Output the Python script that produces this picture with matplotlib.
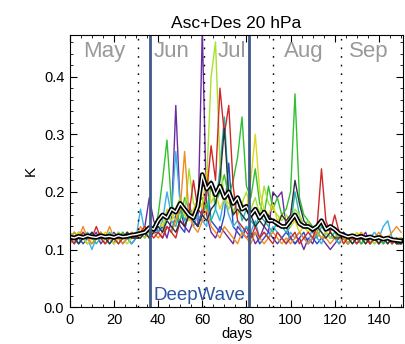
import numpy as np
import matplotlib
matplotlib.use("Agg")
import matplotlib.pyplot as plt
from matplotlib.ticker import MultipleLocator

plt.rcParams['font.family'] = ['Liberation Sans', 'DejaVu Sans']

# days since 1 May, sampled every 2 days
days = np.arange(0, 152, 2)

purple = [0.12, 0.11, 0.13, 0.12, 0.11, 0.12, 0.13, 0.11, 0.12, 0.12, 0.11, 0.13, 0.12, 0.12, 0.11,
          0.12, 0.13, 0.14, 0.19, 0.15,
          0.13, 0.14, 0.12, 0.15, 0.35, 0.17, 0.14, 0.13, 0.15, 0.14,
          0.48, 0.16, 0.13, 0.12, 0.14, 0.13, 0.12, 0.11, 0.14, 0.13,
          0.12, 0.13, 0.11, 0.12, 0.14, 0.13, 0.20, 0.19, 0.20, 0.14,
          0.12, 0.11, 0.12, 0.10, 0.12, 0.11, 0.13, 0.12, 0.11, 0.10,
          0.11, 0.12, 0.12, 0.11, 0.12, 0.11, 0.12, 0.13, 0.11, 0.12, 0.11, 0.12, 0.11, 0.12, 0.11, 0.12]
blue = [0.12, 0.13, 0.12, 0.11, 0.12, 0.13, 0.12, 0.12, 0.11, 0.12, 0.13, 0.12, 0.11, 0.12, 0.12,
        0.12, 0.13, 0.12, 0.14, 0.13,
        0.13, 0.12, 0.14, 0.13, 0.16, 0.14, 0.13, 0.18, 0.15, 0.14,
        0.17, 0.22, 0.15, 0.14, 0.13, 0.16, 0.25, 0.14, 0.13, 0.12,
        0.14, 0.12, 0.13, 0.11, 0.12, 0.13, 0.12, 0.11, 0.12, 0.13,
        0.12, 0.11, 0.12, 0.13, 0.11, 0.12, 0.11, 0.12, 0.13, 0.12,
        0.12, 0.11, 0.12, 0.11, 0.12, 0.12, 0.11, 0.12, 0.11, 0.12, 0.12, 0.11, 0.12, 0.11, 0.12, 0.11]
lightblue = [0.13, 0.12, 0.11, 0.13, 0.12, 0.10, 0.12, 0.13, 0.12, 0.11, 0.12, 0.12, 0.13, 0.12, 0.11,
             0.12, 0.17, 0.13, 0.12, 0.14,
             0.13, 0.15, 0.20, 0.16, 0.27, 0.18, 0.15, 0.17, 0.14, 0.16,
             0.15, 0.14, 0.22, 0.17, 0.15, 0.19, 0.16, 0.14, 0.15, 0.13,
             0.14, 0.13, 0.15, 0.12, 0.13, 0.12, 0.14, 0.13, 0.12, 0.11,
             0.13, 0.12, 0.13, 0.12, 0.11, 0.14, 0.12, 0.11, 0.13, 0.12,
             0.12, 0.11, 0.13, 0.12, 0.11, 0.12, 0.12, 0.11, 0.12, 0.13, 0.12, 0.14, 0.15, 0.12, 0.11, 0.12]
teal = [0.12, 0.12, 0.11, 0.12, 0.13, 0.12, 0.11, 0.12, 0.12, 0.13, 0.12, 0.11, 0.12, 0.12, 0.13,
        0.12, 0.12, 0.13, 0.12, 0.13,
        0.14, 0.13, 0.16, 0.15, 0.14, 0.17, 0.15, 0.16, 0.15, 0.17,
        0.16, 0.18, 0.15, 0.17, 0.24, 0.33, 0.20, 0.16, 0.19, 0.15,
        0.17, 0.15, 0.14, 0.16, 0.15, 0.14, 0.13, 0.15, 0.14, 0.13,
        0.14, 0.20, 0.16, 0.14, 0.15, 0.13, 0.12, 0.14, 0.13, 0.12,
        0.13, 0.12, 0.12, 0.11, 0.12, 0.12, 0.11, 0.12, 0.11, 0.12, 0.11, 0.12, 0.12, 0.11, 0.12, 0.11]
green = [0.11, 0.12, 0.13, 0.12, 0.12, 0.11, 0.12, 0.13, 0.12, 0.12, 0.11, 0.12, 0.13, 0.12, 0.12,
         0.13, 0.12, 0.13, 0.14, 0.13,
         0.16, 0.22, 0.29, 0.18, 0.16, 0.15, 0.19, 0.17, 0.16, 0.18,
         0.19, 0.17, 0.21, 0.18, 0.20, 0.23, 0.19, 0.22, 0.26, 0.33,
         0.21, 0.19, 0.24, 0.18, 0.16, 0.21, 0.17, 0.19, 0.16, 0.17,
         0.20, 0.37, 0.19, 0.16, 0.15, 0.14, 0.13, 0.15, 0.14, 0.13,
         0.12, 0.13, 0.12, 0.11, 0.12, 0.12, 0.11, 0.12, 0.12, 0.11, 0.12, 0.11, 0.12, 0.12, 0.11, 0.12]
lime = [0.12, 0.13, 0.12, 0.12, 0.11, 0.12, 0.12, 0.13, 0.11, 0.12, 0.12, 0.13, 0.12, 0.11, 0.12,
        0.12, 0.13, 0.12, 0.13, 0.14,
        0.15, 0.14, 0.16, 0.15, 0.17, 0.19, 0.16, 0.24, 0.18, 0.17,
        0.18, 0.22, 0.40, 0.46, 0.25, 0.19, 0.17, 0.19, 0.16, 0.18,
        0.20, 0.17, 0.19, 0.16, 0.21, 0.18, 0.17, 0.16, 0.15, 0.16,
        0.15, 0.17, 0.16, 0.14, 0.15, 0.13, 0.14, 0.13, 0.12, 0.13,
        0.12, 0.13, 0.12, 0.12, 0.11, 0.12, 0.12, 0.11, 0.12, 0.11, 0.12, 0.12, 0.11, 0.12, 0.11, 0.11]
yellow = [0.12, 0.12, 0.13, 0.12, 0.11, 0.12, 0.12, 0.12, 0.13, 0.12, 0.11, 0.12, 0.12, 0.13, 0.12,
          0.13, 0.12, 0.14, 0.13, 0.14,
          0.15, 0.14, 0.17, 0.16, 0.15, 0.18, 0.16, 0.15, 0.17, 0.19,
          0.17, 0.24, 0.18, 0.20, 0.17, 0.19, 0.18, 0.17, 0.16, 0.18,
          0.17, 0.22, 0.30, 0.20, 0.17, 0.16, 0.18, 0.15, 0.16, 0.15,
          0.14, 0.15, 0.13, 0.14, 0.13, 0.14, 0.13, 0.12, 0.13, 0.12,
          0.12, 0.12, 0.11, 0.12, 0.12, 0.13, 0.12, 0.11, 0.12, 0.12, 0.11, 0.12, 0.12, 0.11, 0.12, 0.12]
orange = [0.12, 0.13, 0.12, 0.14, 0.12, 0.11, 0.12, 0.13, 0.12, 0.14, 0.12, 0.12, 0.11, 0.12, 0.13,
          0.12, 0.14, 0.13, 0.12, 0.13,
          0.12, 0.13, 0.14, 0.13, 0.15, 0.17, 0.27, 0.16, 0.14, 0.13,
          0.15, 0.17, 0.14, 0.13, 0.12, 0.14, 0.13, 0.12, 0.11, 0.13,
          0.12, 0.11, 0.13, 0.12, 0.11, 0.12, 0.13, 0.12, 0.11, 0.12,
          0.11, 0.12, 0.13, 0.12, 0.11, 0.12, 0.13, 0.12, 0.12, 0.11,
          0.12, 0.13, 0.12, 0.11, 0.12, 0.12, 0.13, 0.12, 0.11, 0.12, 0.13, 0.12, 0.12, 0.13, 0.14, 0.13]
red = [0.12, 0.11, 0.12, 0.13, 0.12, 0.12, 0.14, 0.12, 0.11, 0.12, 0.12, 0.11, 0.12, 0.13, 0.12,
       0.12, 0.13, 0.14, 0.13, 0.12,
       0.13, 0.12, 0.14, 0.13, 0.12, 0.15, 0.14, 0.16, 0.22, 0.17,
       0.16, 0.20, 0.28, 0.22, 0.38, 0.30, 0.35, 0.21, 0.15, 0.14,
       0.13, 0.12, 0.14, 0.12, 0.13, 0.12, 0.11, 0.13, 0.12, 0.11,
       0.12, 0.13, 0.11, 0.12, 0.13, 0.12, 0.14, 0.24, 0.15, 0.13,
       0.16, 0.13, 0.11, 0.12, 0.12, 0.11, 0.12, 0.12, 0.11, 0.12, 0.11, 0.12, 0.12, 0.11, 0.12, 0.11]
dark = [0.12, 0.12, 0.11, 0.12, 0.12, 0.13, 0.12, 0.12, 0.12, 0.11, 0.12, 0.12, 0.12, 0.13, 0.12,
        0.12, 0.12, 0.13, 0.12, 0.13,
        0.14, 0.13, 0.15, 0.14, 0.13, 0.15, 0.14, 0.16, 0.15, 0.14,
        0.16, 0.15, 0.17, 0.18, 0.22, 0.31, 0.19, 0.16, 0.17, 0.16,
        0.15, 0.16, 0.14, 0.15, 0.14, 0.16, 0.15, 0.14, 0.16, 0.15,
        0.16, 0.22, 0.18, 0.15, 0.14, 0.13, 0.14, 0.13, 0.12, 0.13,
        0.12, 0.12, 0.13, 0.12, 0.11, 0.12, 0.12, 0.11, 0.12, 0.12, 0.11, 0.12, 0.11, 0.12, 0.11, 0.11]
mean = [0.122, 0.120, 0.123, 0.121, 0.124, 0.122, 0.121, 0.124, 0.122, 0.123, 0.121, 0.124, 0.122, 0.123, 0.125,
        0.126, 0.128, 0.130, 0.138, 0.135,
        0.150, 0.160, 0.155, 0.170, 0.165, 0.180, 0.170, 0.160, 0.155, 0.175,
        0.230, 0.205, 0.215, 0.195, 0.210, 0.190, 0.200, 0.180, 0.190, 0.170,
        0.175, 0.160, 0.170, 0.155, 0.165, 0.150, 0.150, 0.145, 0.140, 0.140,
        0.150, 0.160, 0.145, 0.140, 0.140, 0.135, 0.140, 0.150, 0.135, 0.140,
        0.135, 0.128, 0.125, 0.122, 0.124, 0.121, 0.123, 0.120, 0.122, 0.119, 0.121, 0.118, 0.120, 0.117, 0.116, 0.115]

series = [purple, blue, lightblue, teal, green, lime, yellow, orange, red, dark]
colors = ['#6a2ca0', '#2848c8', '#38b0e8', '#20b8a8', '#30c030', '#a8e030',
          '#dcd820', '#f08c20', '#d02828', '#303040']

month_starts = [31, 61, 92, 123]
month_names = ['May', 'Jun', 'Jul', 'Aug', 'Sep']
month_label_x = [15.5, 46, 73.5, 106, 135.5]
deepwave = [36.5, 81]

fig = plt.figure(figsize=(4.06, 3.44), dpi=100)
ax = fig.add_axes([0.172, 0.107, 0.821, 0.791])

for s, c in zip(series, colors):
    ax.plot(days, s, color=c, lw=1.0)
ax.plot(days, mean, color='black', lw=3.4)
ax.plot(days, mean, color='white', lw=1.0)

for d in month_starts:
    ax.axvline(d, color='black', lw=1.0, ls=(0, (1.2, 5)))
for d in deepwave:
    ax.axvline(d, color='#3e5a8a', lw=2.0)

for name, x in zip(month_names, month_label_x):
    ax.text(x, 0.434, name, color='#999999', fontsize=16, ha='center', va='baseline')
ax.text(58.7, 0.012, 'DeepWave', color='#2c54a0', fontsize=13.5, ha='center', va='baseline')

ax.set_xlim(0, 151)
ax.set_ylim(0, 0.472)
ax.xaxis.set_major_locator(MultipleLocator(20))
ax.xaxis.set_minor_locator(MultipleLocator(5))
ax.yaxis.set_minor_locator(MultipleLocator(0.02))
ax.set_yticks([0.0, 0.1, 0.2, 0.3, 0.4])
ax.set_yticklabels(['0.0', '0.1', '0.2', '0.3', '0.4'])
ax.tick_params(which='both', direction='in', top=True, right=True, labelsize=10.5, pad=4)
ax.tick_params(which='major', length=5)
ax.tick_params(which='minor', length=2.5)
ax.set_title('Asc+Des 20 hPa', fontsize=12.5, pad=5)
ax.set_xlabel('days', fontsize=10.5, labelpad=0)
ax.set_ylabel('K', fontsize=11, labelpad=4)

fig.savefig('out.png', dpi=100)
